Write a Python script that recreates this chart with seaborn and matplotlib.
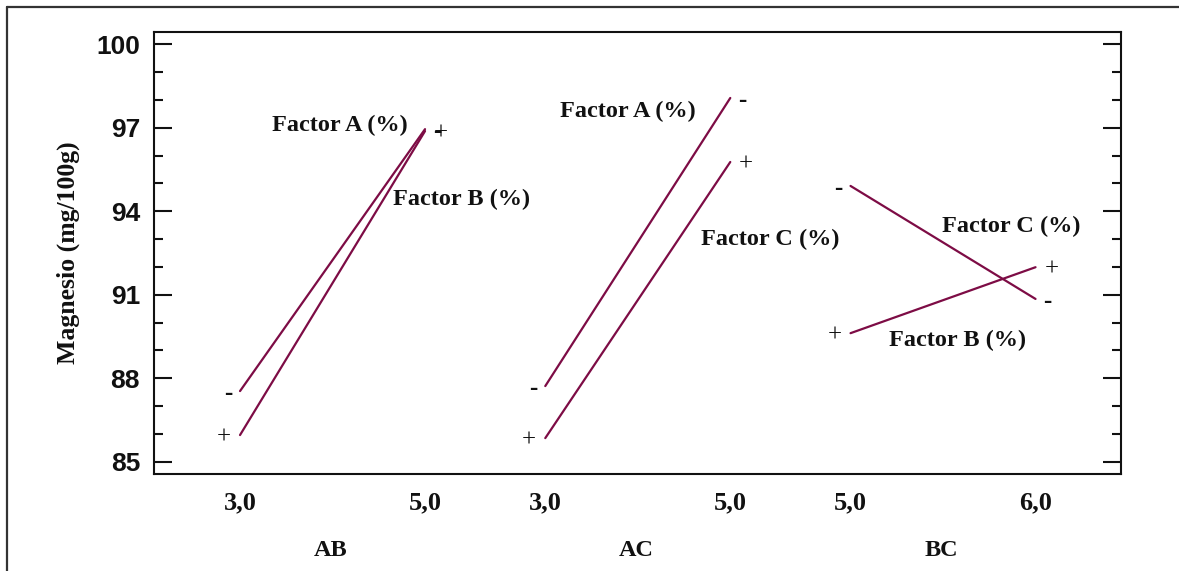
import numpy as np
import pandas as pd
import matplotlib
matplotlib.use("Agg")
import matplotlib.pyplot as plt
from matplotlib.lines import Line2D
from matplotlib.ticker import MultipleLocator
import seaborn as sns

# ---- data ----
panels = ["AB", "AC", "BC"]
level_labels = ["3,0", "5,0", "3,0", "5,0", "5,0", "6,0"]
# each panel: low/high of x-factor, two lines (sign "-" and "+")
ab_minus = [87.54, 96.95]
ab_plus = [85.96, 96.88]
ac_minus = [87.72, 98.07]
ac_plus = [85.85, 95.77]
bc_minus = [94.91, 90.85]
bc_plus = [89.62, 91.99]
line_signs = ["-", "+"]
factor_labels = [["Factor A (%)", "Factor B (%)"],
                 ["Factor A (%)", "Factor C (%)"],
                 ["Factor C (%)", "Factor B (%)"]]
y_label = "Magnesio (mg/100g)"
y_ticks = [85, 88, 91, 94, 97, 100]

series = [[ab_minus, ab_plus], [ac_minus, ac_plus], [bc_minus, bc_plus]]

# ---- layout ----
panel_step = 1.65
xpos = []
for i in range(3):
    xpos += [i * panel_step, i * panel_step + 1]

rows = []
for i, (pl, lines) in enumerate(zip(panels, series)):
    for sgn, vals in zip(line_signs, lines):
        for j, v in enumerate(vals):
            rows.append({"x": i * panel_step + j, "y": v, "line": f"{pl}{sgn}"})
df = pd.DataFrame(rows)

sns.set_theme(style="white")
plt.rcParams["font.family"] = ["Liberation Serif", "DejaVu Serif"]

W, H = 1179, 571
fig = plt.figure(figsize=(W / 100, H / 100), dpi=100)
ax = fig.add_axes([154 / W, 1 - 474.3 / H, (1121 - 154) / W, (474.3 - 32) / H])

color = "#7d0c45"
sns.lineplot(data=df, x="x", y="y", hue="line", units="line", estimator=None,
             palette=[color] * df["line"].nunique(), legend=False, lw=1.6, ax=ax)

ax.set_xlim(-0.465, 4.762)
ax.set_ylim(84.55, 100.44)

ax.set_xticks(xpos)
ax.set_xticklabels(level_labels, fontsize=19, fontweight="bold",
                   family=["Liberation Serif"], color="#111111")
ax.tick_params(axis="x", length=0, pad=12)

ax.set_yticks(y_ticks)
ax.set_yticklabels([str(t) for t in y_ticks], fontsize=19, fontweight="bold",
                   family=["Liberation Sans"], color="#111111")
ax.yaxis.set_minor_locator(MultipleLocator(1))
ax.tick_params(axis="y", which="major", direction="in", length=13, width=1.5,
               left=True, right=True, pad=10, color="#111111")
ax.tick_params(axis="y", which="minor", direction="in", length=6.5, width=1.5,
               left=True, right=True, color="#111111")

for s in ax.spines.values():
    s.set_visible(True)
    s.set_color("#111111")
    s.set_linewidth(1.5)

ax.set_xlabel("")
ax.set_ylabel(y_label, fontsize=18.5, fontweight="bold", labelpad=12,
              color="#111111")

# sign markers at line ends
for i, lines in enumerate(series):
    for sgn, vals in zip(line_signs, lines):
        off = 8.5 if sgn == "-" else 11.5
        fw = "bold" if sgn == "-" else "normal"
        for j, v in enumerate(vals):
            dx = -off if j == 0 else off
            ax.annotate(sgn, (i * panel_step + j, v), xytext=(dx, -2),
                        textcoords="offset points", ha="center", va="center",
                        fontsize=18, fontweight=fw, color="#111111")

# factor labels
label_pos = [[(0.54, 97.1), (1.2, 94.44)],
             [(2.097, 97.6), (2.865, 92.97)],
             [(4.168, 93.47), (3.881, 89.37)]]
for labs, poss in zip(factor_labels, label_pos):
    for lab, (px, py) in zip(labs, poss):
        ax.text(px, py, lab, ha="center", va="center", fontsize=17.5,
                fontweight="bold", color="#111111")

# panel labels
trans = matplotlib.transforms.blended_transform_factory(ax.transData, ax.transAxes)
for i, pl in enumerate(panels):
    ax.text(i * panel_step + 0.49, -0.173, pl, transform=trans, ha="center",
            va="center", fontsize=17.5, fontweight="bold", color="#111111")

# outer frame
fx, fy = 7 / W, 1 - 7 / H
fig.add_artist(Line2D([fx, fx], [0, fy], transform=fig.transFigure,
                      color="#333333", lw=1.6))
fig.add_artist(Line2D([fx, 1], [fy, fy], transform=fig.transFigure,
                      color="#333333", lw=1.6))

fig.savefig("out.png", dpi=100)
